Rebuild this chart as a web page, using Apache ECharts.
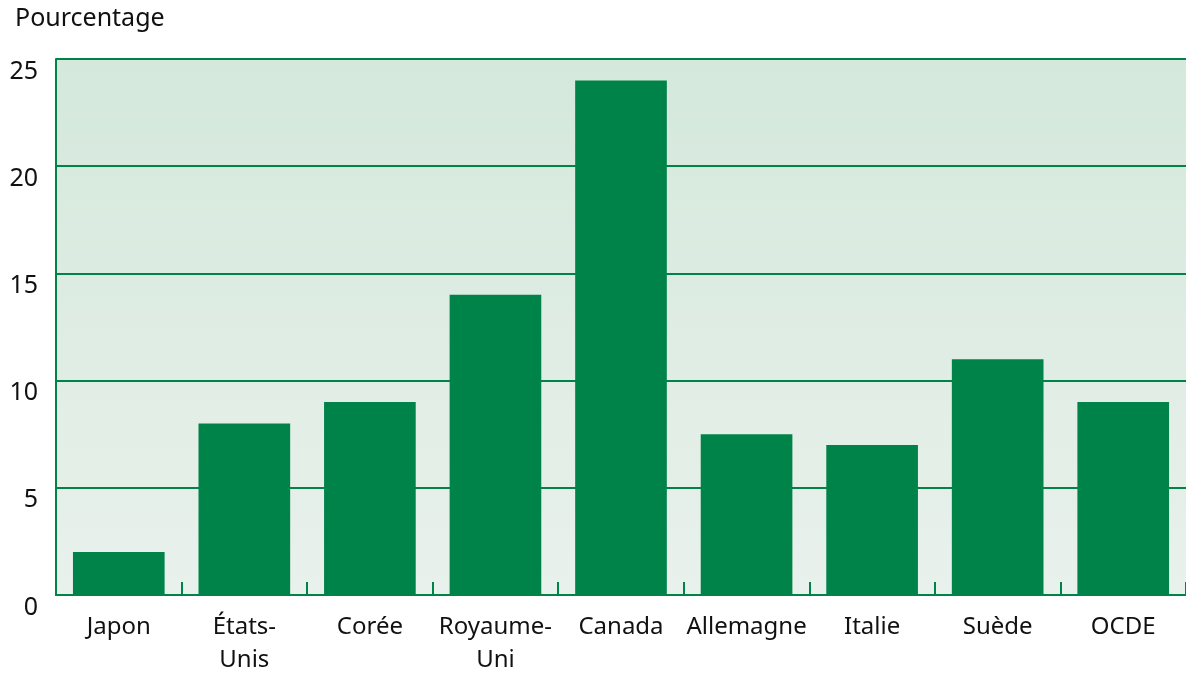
<!DOCTYPE html>
<html>
<head>
<meta charset="utf-8">
<script src="https://cdn.jsdelivr.net/npm/echarts@6/dist/echarts.min.js"></script>
<style>html,body{margin:0;padding:0;background:#fff}#c{width:1186px;height:677px}</style>
</head>
<body>
<div id="c"></div>
<script>
const categories = ['Japon', 'États-\nUnis', 'Corée', 'Royaume-\nUni', 'Canada', 'Allemagne', 'Italie', 'Suède', 'OCDE'];
const values = [2, 8, 9, 14, 24, 7.5, 7, 11, 9];
const yTicks = [0, 5, 10, 15, 20, 25];
const yTitle = 'Pourcentage';

const green = '#008348';
const font = 'Noto Sans';
const chart = echarts.init(document.getElementById('c'));
chart.setOption({
  animation: false,
  textStyle: { fontFamily: font },
  graphic: [{
    type: 'text', left: 15, top: 6,
    style: { text: yTitle, fontSize: 25, fontFamily: font, fill: '#111' }
  }],
  grid: {
    left: 56, right: 0, top: 59, bottom: 81,
    show: true, borderWidth: 0, borderColor: 'transparent',
    backgroundColor: {
      type: 'linear', x: 0, y: 0, x2: 0, y2: 1,
      colorStops: [{ offset: 0, color: '#d4e8db' }, { offset: 1, color: '#e9f1ec' }]
    }
  },
  xAxis: {
    type: 'category',
    data: categories,
    axisLine: { show: true, lineStyle: { color: green, width: 2 } },
    axisTick: { show: true, inside: true, length: 13, alignWithLabel: false, lineStyle: { color: green, width: 2 } },
    axisLabel: { color: '#111', fontSize: 24, lineHeight: 33, margin: 16, interval: 0 }
  },
  yAxis: {
    type: 'value',
    min: yTicks[0], max: yTicks[yTicks.length - 1], interval: 5,
    axisLine: { show: true, lineStyle: { color: green, width: 2 } },
    axisTick: { show: false },
    splitLine: { show: true, lineStyle: { color: green, width: 2 } },
    axisLabel: { color: '#111', fontSize: 25, margin: 18, verticalAlign: 'top' }
  },
  series: [{
    type: 'bar',
    data: values,
    barCategoryGap: '27%',
    itemStyle: { color: green }
  }]
});
</script>
</body>
</html>
